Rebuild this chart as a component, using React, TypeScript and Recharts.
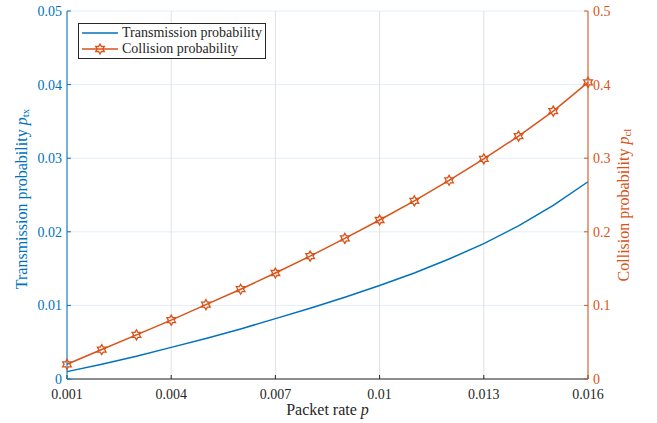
import React from "react";
import { ComposedChart, Line, XAxis, YAxis, CartesianGrid, Legend } from "recharts";

// packet rate p (x axis)
const packetRate = [
  0.001, 0.002, 0.003, 0.004, 0.005, 0.006, 0.007, 0.008,
  0.009, 0.01, 0.011, 0.012, 0.013, 0.014, 0.015, 0.016,
];
// transmission probability p_tx (left axis)
const txProb = [
  0.001, 0.002, 0.0031, 0.0043, 0.0055, 0.0068, 0.0082, 0.0096,
  0.0111, 0.0127, 0.0144, 0.0163, 0.0184, 0.0208, 0.0236, 0.0268,
];
// collision probability p_cl (right axis)
const clProb = [
  0.02, 0.04, 0.06, 0.08, 0.101, 0.122, 0.144, 0.167,
  0.191, 0.216, 0.242, 0.27, 0.299, 0.33, 0.364, 0.403,
];

const xTicks = [0.001, 0.004, 0.007, 0.01, 0.013, 0.016];
const leftTicks = [0, 0.01, 0.02, 0.03, 0.04, 0.05];
const rightTicks = [0, 0.1, 0.2, 0.3, 0.4, 0.5];

const data = packetRate.map((p, i) => ({ p, tx: txProb[i], cl: clProb[i] }));

const BLUE = "#0072BD";
const ORANGE = "#D95319";
const FONT = "'Liberation Serif', 'Times New Roman', serif";

const fmt = (v: number) => String(Number(v.toFixed(3)));

// six-pointed star marker
function Hexagram(props: any) {
  const { cx, cy } = props;
  if (cx == null || cy == null) return null;
  const R = 5;
  const r = R / Math.sqrt(3);
  const pts: string[] = [];
  for (let k = 0; k < 12; k++) {
    const a = -Math.PI / 2 + (k * Math.PI) / 6;
    const rad = k % 2 === 0 ? R : r;
    pts.push(`${cx + rad * Math.cos(a)},${cy + rad * Math.sin(a)}`);
  }
  return <polygon points={pts.join(" ")} fill="none" stroke={ORANGE} strokeWidth={1.3} />;
}

function LeftLabel(props: any) {
  const vb = props.viewBox || { x: 0, y: 11, width: 67, height: 368 };
  const x = 21;
  const y = vb.y + vb.height / 2 + 4;
  return (
    <text x={x} y={y} transform={`rotate(-90 ${x} ${y})`} textAnchor="middle" dominantBaseline="central"
      fill={BLUE} fontFamily={FONT} fontSize={16}>
      Transmission probability <tspan fontStyle="italic">p</tspan>
      <tspan fontSize={11} dy={4}>tx</tspan>
    </text>
  );
}

function RightLabel(props: any) {
  const vb = props.viewBox || { x: 588, y: 11, width: 69, height: 368 };
  const x = 623;
  const y = vb.y + vb.height / 2 + 10;
  return (
    <text x={x} y={y} transform={`rotate(-90 ${x} ${y})`} textAnchor="middle" dominantBaseline="central"
      fill={ORANGE} fontFamily={FONT} fontSize={16}>
      Collision probability <tspan fontStyle="italic">p</tspan>
      <tspan fontSize={11} dy={4}>cl</tspan>
    </text>
  );
}

function BottomLabel(props: any) {
  const vb = props.viewBox || { x: 67, y: 379, width: 521, height: 44 };
  return (
    <text x={vb.x + vb.width / 2} y={415} textAnchor="middle" fill="#262626" fontFamily={FONT} fontSize={16}>
      Packet rate <tspan fontStyle="italic">p</tspan>
    </text>
  );
}

function LegendBox() {
  const row = (label: string, color: string, marker: boolean) => (
    <div style={{ display: "flex", alignItems: "center", height: 16 }}>
      <svg width={40} height={12} style={{ flex: "none" }}>
        <line x1={2} y1={6} x2={38} y2={6} stroke={color} strokeWidth={1.5} />
        {marker && <Hexagram cx={20} cy={6} />}
      </svg>
      <span style={{ marginLeft: 2, whiteSpace: "nowrap" }}>{label}</span>
    </div>
  );
  return (
    <div
      style={{
        display: "inline-block",
        border: "1px solid #262626",
        background: "#fff",
        padding: "1px 3px 1px 1px",
        fontFamily: FONT,
        fontSize: 14,
        color: "#262626",
        lineHeight: "16px",
        whiteSpace: "nowrap",
      }}
    >
      {row("Transmission probability", BLUE, false)}
      {row("Collision probability", ORANGE, true)}
    </div>
  );
}

export default function App() {
  return (
    <div style={{ position: "absolute", left: 0, top: 0, width: 657, height: 423, background: "#fff" }}>
      <ComposedChart width={657} height={423} data={data} margin={{ top: 11, right: 0, bottom: 0, left: 0 }}>
        <CartesianGrid xAxisId="bottom" yAxisId="left" vertical={false} stroke="#e4eef7" strokeWidth={1} />
        <CartesianGrid xAxisId="bottom" yAxisId="left" horizontal={false} stroke="#e2e2e2" strokeWidth={1} />
        <XAxis
          xAxisId="top"
          orientation="top"
          dataKey="p"
          type="number"
          domain={[0.001, 0.016]}
          ticks={xTicks}
          height={0}
          tick={false}
          tickSize={-4}
          axisLine={{ stroke: "#262626" }}
          tickLine={{ stroke: "#262626" }}
        />
        <XAxis
          xAxisId="bottom"
          dataKey="p"
          type="number"
          domain={[0.001, 0.016]}
          ticks={xTicks}
          tickFormatter={fmt}
          height={44}
          tickSize={-4}
          tickMargin={14}
          axisLine={{ stroke: "#262626" }}
          tickLine={{ stroke: "#262626" }}
          tick={{ fill: "#262626", fontFamily: FONT, fontSize: 14 }}
          label={<BottomLabel />}
        />
        <YAxis
          yAxisId="left"
          orientation="left"
          domain={[0, 0.05]}
          ticks={leftTicks}
          tickFormatter={fmt}
          width={67}
          tickSize={-4}
          tickMargin={9}
          axisLine={{ stroke: BLUE }}
          tickLine={{ stroke: BLUE }}
          tick={{ fill: BLUE, fontFamily: FONT, fontSize: 14 }}
          label={<LeftLabel />}
        />
        <YAxis
          yAxisId="right"
          orientation="right"
          domain={[0, 0.5]}
          ticks={rightTicks}
          tickFormatter={fmt}
          width={69}
          tickSize={-4}
          tickMargin={9}
          axisLine={{ stroke: ORANGE }}
          tickLine={{ stroke: ORANGE }}
          tick={{ fill: ORANGE, fontFamily: FONT, fontSize: 14 }}
          label={<RightLabel />}
        />
        <Legend
          layout="vertical"
          align="center"
          verticalAlign="middle"
          content={<LegendBox />}
          wrapperStyle={{ position: "absolute", left: 78, top: 23, width: "auto", margin: 0 }}
        />
        <Line
          xAxisId="bottom"
          yAxisId="left"
          dataKey="tx"
          name="Transmission probability"
          stroke={BLUE}
          strokeWidth={1.5}
          dot={false}
          isAnimationActive={false}
        />
        <Line
          xAxisId="bottom"
          yAxisId="right"
          dataKey="cl"
          name="Collision probability"
          stroke={ORANGE}
          strokeWidth={1.5}
          dot={<Hexagram />}
          activeDot={false}
          isAnimationActive={false}
        />
      </ComposedChart>
    </div>
  );
}
